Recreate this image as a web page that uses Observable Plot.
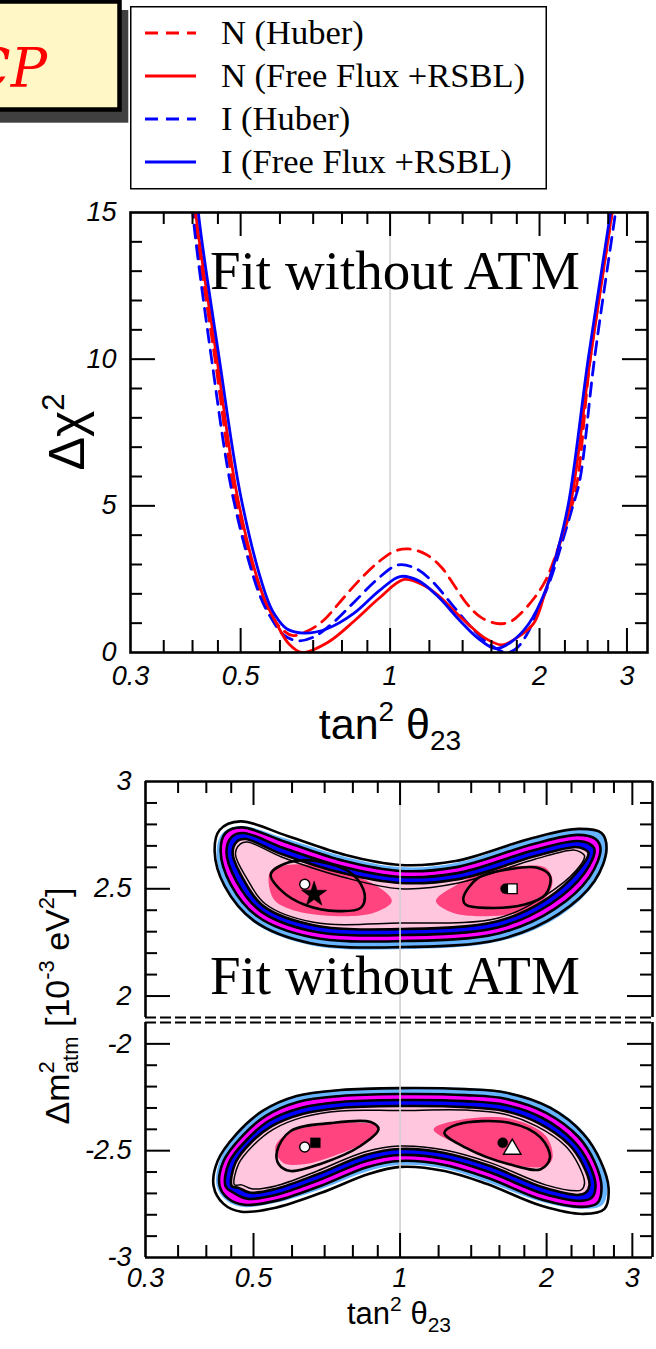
<!DOCTYPE html>
<html>
<head>
<meta charset="utf-8">
<script src="https://cdn.jsdelivr.net/npm/d3@7"></script>
<script src="https://cdn.jsdelivr.net/npm/@observablehq/plot@0.6"></script>
<style>
  html, body { margin: 0; padding: 0; background: #fff; }
  #page { position: relative; width: 656px; height: 1349px; overflow: hidden; background: #fff; }
</style>
</head>
<body>
<div id="page"></div>
<script>
const SANS = "Liberation Sans, Arial, Helvetica, sans-serif";
const SERIF = "Liberation Serif, Times New Roman, serif";

// ---- shared tan^2(theta23) axis ----
const tanDomain = [0.3, 3.3];
const tanMajorTicks = [0.5, 1, 2, 3];
const tanMinorTicks = [0.35, 0.4, 0.45, 0.6, 0.7, 0.8, 0.9, 1.2, 1.4, 1.6, 1.8, 2.25, 2.5, 2.75];
const tanTickLabels = [0.3, 0.5, 1, 2, 3];

// ---- Delta chi^2 profiles: [tan^2 theta23, Delta chi^2] ----
const chiDomain = [0, 15];
const chiMajorTicks = [5, 10];
const chiMinorTicks = [1, 2, 3, 4, 6, 7, 8, 9, 11, 12, 13, 14];
const chiTickLabels = [0, 5, 10, 15];

const chiNHuber = [
  [0.401, 16], [0.403, 15], [0.444, 10], [0.489, 5.2], [0.548, 2.0], [0.580, 1.2],
  [0.605, 0.80], [0.635, 0.58], [0.680, 0.72], [0.735, 1.10], [0.787, 1.66],
  [0.860, 2.40], [0.950, 3.10], [1.020, 3.45], [1.090, 3.53], [1.180, 3.35],
  [1.270, 2.90], [1.345, 2.30], [1.430, 1.65], [1.530, 1.18], [1.660, 0.98],
  [1.760, 1.08], [1.831, 1.32], [1.950, 1.85], [2.056, 2.45], [2.184, 3.59],
  [2.300, 4.73], [2.385, 5.86], [2.530, 10], [2.800, 15], [2.850, 16]
];
const chiNFree = [
  [0.403, 16], [0.406, 15], [0.448, 10], [0.494, 5.2], [0.553, 2.0], [0.590, 1.0],
  [0.625, 0.30], [0.665, 0.0], [0.750, 0.35], [0.850, 1.10], [0.950, 1.85],
  [1.067, 2.49], [1.160, 2.32], [1.250, 1.95], [1.340, 1.45], [1.440, 0.95],
  [1.550, 0.50], [1.680, 0.26], [1.800, 0.50], [1.948, 1.00], [2.056, 2.10],
  [2.184, 3.59], [2.316, 5.18], [2.530, 10], [2.800, 15], [2.850, 16]
];
const chiIHuber = [
  [0.398, 16], [0.4005, 15], [0.437, 10], [0.484, 5.2], [0.545, 2.0], [0.575, 1.2],
  [0.610, 0.60], [0.650, 0.40], [0.700, 0.52], [0.760, 0.95], [0.850, 1.75],
  [0.950, 2.55], [1.040, 2.99], [1.130, 2.85], [1.220, 2.40], [1.330, 1.65],
  [1.450, 0.90], [1.580, 0.30], [1.720, 0.0], [1.800, 0.15], [1.889, 0.64],
  [1.970, 1.32], [2.100, 2.45], [2.225, 3.80], [2.330, 4.95], [2.410, 5.86],
  [2.580, 10], [2.845, 15], [2.900, 16]
];
const chiIFree = [
  [0.408, 16], [0.411, 15], [0.453, 10], [0.502, 5.2], [0.561, 2.0], [0.585, 1.30],
  [0.620, 0.80], [0.672, 0.66], [0.747, 0.81], [0.845, 1.33], [0.950, 2.10],
  [1.047, 2.59], [1.140, 2.45], [1.250, 1.90], [1.380, 1.10], [1.500, 0.50],
  [1.630, 0.13], [1.750, 0.35], [1.903, 0.98], [2.056, 2.11], [2.184, 3.59],
  [2.293, 5.18], [2.506, 10], [2.780, 15], [2.830, 16]
];

// ---- Delta m^2_atm allowed regions, normal ordering: [tan^2 theta23, Delta m^2] ----
const dmUpperDomain = [1.9, 3];
const dmUpperMajorTicks = [2, 2.5];
const dmUpperMinorTicks = [2.1, 2.2, 2.3, 2.4, 2.6, 2.7, 2.8, 2.9];
const dmUpperTickLabels = [2, 2.5, 3];

const upperRegion99 = [
  [0.420, 2.676], [0.432, 2.760], [0.470, 2.793], [0.587, 2.732], [0.773, 2.648], [1.0, 2.601],
  [1.300, 2.620], [1.872, 2.732], [2.326, 2.774], [2.606, 2.760], [2.668, 2.686], [2.521, 2.531],
  [2.126, 2.372], [1.608, 2.256], [1.0, 2.218], [0.655, 2.237], [0.502, 2.340], [0.436, 2.508]
];
const upperLine1 = [
  [0.416, 2.676], [0.426, 2.774], [0.470, 2.814], [0.587, 2.746], [0.773, 2.657], [1.0, 2.611],
  [1.300, 2.629], [1.872, 2.737], [2.326, 2.779], [2.593, 2.760], [2.655, 2.686], [2.509, 2.536],
  [2.116, 2.382], [1.608, 2.265], [1.0, 2.228], [0.655, 2.246], [0.502, 2.349], [0.436, 2.513]
];
const upperLine2 = [
  [0.428, 2.676], [0.438, 2.760], [0.4725, 2.786], [0.582, 2.718], [0.769, 2.629], [1.0, 2.583],
  [1.306, 2.601], [1.880, 2.709], [2.315, 2.751], [2.521, 2.732], [2.581, 2.686], [2.450, 2.555],
  [2.076, 2.405], [1.600, 2.293], [1.0, 2.256], [0.658, 2.274], [0.509, 2.372], [0.4485, 2.522]
];
const upperLine3 = [
  [0.440, 2.671], [0.451, 2.742], [0.477, 2.760], [0.576, 2.690], [0.766, 2.601], [1.0, 2.555],
  [1.312, 2.573], [1.889, 2.681], [2.304, 2.723], [2.450, 2.709], [2.509, 2.681], [2.393, 2.573],
  [2.037, 2.429], [1.594, 2.321], [1.0, 2.284], [0.661, 2.302], [0.517, 2.396], [0.461, 2.536]
];
const upperLine4 = [
  [0.453, 2.667], [0.4635, 2.723], [0.4815, 2.732], [0.571, 2.662], [0.762, 2.573], [1.0, 2.527],
  [1.318, 2.545], [1.898, 2.653], [2.293, 2.695], [2.382, 2.686], [2.439, 2.667], [2.337, 2.592],
  [1.999, 2.452], [1.586, 2.349], [1.0, 2.312], [0.664, 2.330], [0.524, 2.419], [0.475, 2.550]
];
const upperLine5 = [
  [0.459, 2.662], [0.470, 2.709], [0.486, 2.718], [0.571, 2.648], [0.762, 2.555], [1.0, 2.500],
  [1.318, 2.527], [1.898, 2.639], [2.272, 2.681], [2.348, 2.671], [2.393, 2.653], [2.304, 2.587],
  [1.980, 2.466], [1.586, 2.363], [1.0, 2.340], [0.664, 2.344], [0.529, 2.429], [0.484, 2.550]
];
const upperCoreLeft = [
  [0.5425, 2.583], [0.612, 2.614], [0.746, 2.583], [0.884, 2.521], [0.962, 2.443],
  [0.884, 2.388], [0.746, 2.372], [0.612, 2.396], [0.554, 2.443], [0.539, 2.505]
];
const upperCoreRight = [
  [1.185, 2.443], [1.313, 2.521], [1.505, 2.583], [1.768, 2.606], [1.991, 2.598],
  [2.057, 2.536], [1.991, 2.458], [1.802, 2.396], [1.505, 2.372], [1.283, 2.388]
];
const upperIslandLeft = [
  [0.5425, 2.567], [0.589, 2.622], [0.676, 2.629], [0.800, 2.567], [0.846, 2.474],
  [0.830, 2.411], [0.746, 2.396], [0.635, 2.427], [0.572, 2.489]
];
const upperIslandRight = [
  [1.349, 2.458], [1.447, 2.551], [1.674, 2.591], [1.914, 2.598], [2.032, 2.559],
  [1.991, 2.474], [1.803, 2.427], [1.505, 2.411], [1.363, 2.427]
];
const upperBestFits = [[0.637, 2.521], [0.666, 2.474], [1.647, 2.500], [1.700, 2.500]];

// ---- inverted ordering ----
const dmLowerDomain = [-3, -1.9];
const dmLowerMajorTicks = [-2, -2.5];
const dmLowerMinorTicks = [-2.1, -2.2, -2.3, -2.4, -2.6, -2.7, -2.8, -2.9];
const dmLowerTickLabels = [-2, -2.5, -3];

const lowerRegion99 = [
  [0.420, -2.665], [0.426, -2.548], [0.464, -2.417], [0.522, -2.310], [0.613, -2.240], [0.755, -2.212],
  [1.0, -2.202], [1.363, -2.207], [1.663, -2.226], [2.047, -2.296], [2.393, -2.417], [2.593, -2.548],
  [2.668, -2.669], [2.606, -2.753], [2.382, -2.772], [1.952, -2.739], [1.505, -2.646], [1.234, -2.585],
  [1.0, -2.567], [0.862, -2.595], [0.689, -2.679], [0.555, -2.744], [0.472, -2.763], [0.438, -2.730]
];
const lowerLine1 = [
  [0.414, -2.665], [0.422, -2.548], [0.461, -2.422], [0.522, -2.314], [0.613, -2.244], [0.755, -2.216],
  [1.0, -2.207], [1.363, -2.212], [1.663, -2.230], [2.037, -2.300], [2.382, -2.422], [2.581, -2.548],
  [2.681, -2.674], [2.630, -2.772], [2.382, -2.796], [1.952, -2.758], [1.505, -2.655], [1.234, -2.595],
  [1.0, -2.576], [0.862, -2.609], [0.689, -2.697], [0.555, -2.767], [0.472, -2.786], [0.434, -2.749]
];
const lowerLine2 = [
  [0.426, -2.665], [0.434, -2.548], [0.472, -2.436], [0.529, -2.338], [0.617, -2.272], [0.755, -2.244],
  [1.0, -2.235], [1.363, -2.240], [1.655, -2.258], [2.000, -2.324], [2.326, -2.436], [2.509, -2.553],
  [2.593, -2.669], [2.545, -2.744], [2.370, -2.763], [1.961, -2.730], [1.512, -2.627], [1.234, -2.567],
  [1.0, -2.548], [0.858, -2.576], [0.686, -2.665], [0.555, -2.735], [0.479, -2.753], [0.444, -2.725]
];
const lowerLine3 = [
  [0.438, -2.665], [0.446, -2.553], [0.484, -2.450], [0.537, -2.361], [0.625, -2.300], [0.755, -2.272],
  [1.0, -2.263], [1.363, -2.268], [1.647, -2.286], [1.961, -2.347], [2.272, -2.455], [2.439, -2.557],
  [2.521, -2.665], [2.473, -2.721], [2.348, -2.735], [1.971, -2.702], [1.519, -2.599], [1.234, -2.539],
  [1.0, -2.520], [0.853, -2.548], [0.682, -2.637], [0.555, -2.707], [0.486, -2.725], [0.455, -2.697]
];
const lowerLine4 = [
  [0.451, -2.665], [0.459, -2.557], [0.493, -2.464], [0.545, -2.385], [0.630, -2.328], [0.755, -2.300],
  [1.0, -2.291], [1.363, -2.296], [1.639, -2.314], [1.925, -2.371], [2.219, -2.469], [2.370, -2.562],
  [2.450, -2.660], [2.404, -2.697], [2.326, -2.707], [1.980, -2.674], [1.527, -2.571], [1.234, -2.511],
  [1.0, -2.492], [0.849, -2.520], [0.679, -2.609], [0.555, -2.679], [0.493, -2.697], [0.466, -2.674]
];
const lowerLine5 = [
  [0.457, -2.660], [0.466, -2.562], [0.498, -2.478], [0.550, -2.399], [0.632, -2.343], [0.755, -2.314],
  [1.0, -2.312], [1.363, -2.310], [1.632, -2.328], [1.907, -2.385], [2.187, -2.478], [2.326, -2.567],
  [2.393, -2.651], [2.359, -2.683], [2.304, -2.688], [1.990, -2.660], [1.534, -2.557], [1.234, -2.497],
  [1.0, -2.478], [0.845, -2.506], [0.676, -2.595], [0.555, -2.665], [0.498, -2.679], [0.472, -2.660]
];
const lowerCoreLeft = [
  [0.554, -2.486], [0.589, -2.416], [0.690, -2.380], [0.827, -2.369], [0.903, -2.385],
  [0.877, -2.439], [0.746, -2.517], [0.634, -2.564], [0.575, -2.556]
];
const lowerCoreRight = [
  [1.172, -2.400], [1.293, -2.361], [1.675, -2.349], [1.991, -2.430], [2.057, -2.533],
  [1.991, -2.572], [1.675, -2.564], [1.363, -2.486]
];
const lowerIslandLeft = [
  [0.559, -2.501], [0.596, -2.408], [0.720, -2.371], [0.870, -2.366], [0.903, -2.399],
  [0.829, -2.478], [0.686, -2.562], [0.596, -2.595], [0.563, -2.562]
];
const lowerIslandRight = [
  [1.233, -2.416], [1.311, -2.377], [1.675, -2.369], [1.945, -2.439], [2.032, -2.533],
  [1.945, -2.587], [1.675, -2.564], [1.363, -2.486]
];
const lowerBestFits = [[0.637, -2.483], [0.670, -2.463], [1.625, -2.463], [1.700, -2.493]];

// ---- colours ----
const RED = "#ff0000", BLUE = "#0000ff";
const C_LIGHTBLUE = "#66b3ff", C_MAGENTA = "#ff00ff", C_BLUE = "#0000ff",
      C_LIGHTPINK = "#ffc6de", C_HOTPINK = "#ff4480";

const page = document.getElementById("page");
function place(el, top) {
  el.style.position = "absolute";
  el.style.left = "0px";
  el.style.top = top + "px";
  el.style.background = "none";
  el.style.overflow = "visible";
  page.appendChild(el);
}

const TICK = {stroke: "#000", strokeWidth: 2};
function tanTickMarks(H, edges) {
  const out = [];
  for (const e of edges) {
    const inset = e === "bottom" ? "insetTop" : "insetBottom";
    out.push(Plot.tickX(tanMajorTicks, {x: d => d, [inset]: H - 24, ...TICK}));
    out.push(Plot.tickX(tanMinorTicks, {x: d => d, [inset]: H - 12, ...TICK}));
  }
  return out;
}
function sideTickMarks(W, major, minor) {
  return [
    Plot.tickY(major, {y: d => d, insetRight: W - 25, ...TICK}),
    Plot.tickY(minor, {y: d => d, insetRight: W - 12, ...TICK}),
    Plot.tickY(major, {y: d => d, insetLeft: W - 25, ...TICK}),
    Plot.tickY(minor, {y: d => d, insetLeft: W - 12, ...TICK})
  ];
}
const tickFont = {fontSize: 27, fontStyle: "italic", fontFamily: SANS, fill: "#000", lineAnchor: "middle"};
function tanLabels(dy) {
  return Plot.text(tanTickLabels, {x: d => d, frameAnchor: "bottom", dy, text: d => String(d), ...tickFont});
}
function sideLabels(values, dx) {
  return Plot.text(values, {y: d => d, frameAnchor: "left", dx, textAnchor: "end", text: d => String(d), ...tickFont});
}

// ---------- Delta chi^2 panel ----------
const profile = (data, stroke, dashed) => Plot.line(data, {
  x: d => d[0], y: d => d[1], stroke, strokeWidth: 2.8,
  strokeDasharray: dashed ? "13,8" : null, curve: "catmull-rom", clip: true
});
const chiPlot = Plot.plot({
  width: 656, height: 560,
  marginTop: 32, marginBottom: 88, marginLeft: 130, marginRight: 9,
  x: {type: "log", domain: tanDomain, axis: null},
  y: {domain: chiDomain, axis: null},
  marks: [
    Plot.ruleX([1], {stroke: "#d4d4d4", strokeWidth: 1.6}),
    profile(chiNHuber, RED, true),
    profile(chiIHuber, BLUE, true),
    profile(chiNFree, RED, false),
    profile(chiIFree, BLUE, false),
    Plot.frame({stroke: "#000", strokeWidth: 2.6}),
    ...tanTickMarks(440, ["bottom", "top"]),
    ...sideTickMarks(517, chiMajorTicks, chiMinorTicks),
    tanLabels(24),
    sideLabels(chiTickLabels, -14)
  ]
});
place(chiPlot, 180);

// ---------- Delta m^2 vs tan^2 panels (broken axis) ----------
const region = (data, fill) => Plot.line(data, {x: d => d[0], y: d => d[1], fill, stroke: "none", curve: "catmull-rom-closed"});
const contour = (data, w) => Plot.line(data, {x: d => d[0], y: d => d[1], fill: "none", stroke: "#000", strokeWidth: w, curve: "catmull-rom-closed"});
const BREAK = {stroke: "#000", strokeWidth: 2, strokeDasharray: "11,4"};
const EDGE = {stroke: "#000", strokeWidth: 2.6};

function dmPanel(o) {
  return Plot.plot({
    width: 656, height: o.height,
    marginTop: o.marginTop, marginBottom: o.marginBottom, marginLeft: 145, marginRight: 4,
    x: {type: "log", domain: tanDomain, axis: null},
    y: {domain: o.domain, axis: null},
    marks: [
      region(o.outer, C_LIGHTBLUE),
      region(o.lines[1], C_MAGENTA),
      region(o.lines[2], C_BLUE),
      region(o.lines[3], C_LIGHTPINK),
      region(o.cores[0], C_HOTPINK),
      region(o.cores[1], C_HOTPINK),
      contour(o.lines[0], 2.6),
      contour(o.lines[1], 2.6),
      contour(o.lines[2], 2.6),
      contour(o.lines[3], 2.6),
      contour(o.lines[4], 1.5),
      contour(o.islands[0], 2.6),
      contour(o.islands[1], 2.6),
      Plot.ruleX([1], {stroke: "#d0d0d0", strokeWidth: 1.6}),
      ...o.markers,
      Plot.ruleX([tanDomain[0], tanDomain[1]], EDGE),
      Plot.ruleY([o.solidEdge], EDGE),
      Plot.ruleY([o.breakEdge], BREAK),
      ...tanTickMarks(o.H, [o.tickEdge]),
      ...sideTickMarks(507, o.major, o.minor),
      sideLabels(o.labels, -14),
      ...(o.tickEdge === "bottom" ? [tanLabels(21)] : [])
    ]
  });
}

const dot = (p, symbol, fill, r) => Plot.dot([p], {x: d => d[0], y: d => d[1], symbol, fill, r, stroke: "#000", strokeWidth: fill === "white" ? 1.4 : 0.5});

const upperPanel = dmPanel({
  height: 260, marginTop: 21, marginBottom: 3, H: 236, domain: dmUpperDomain,
  outer: upperRegion99,
  lines: [upperLine1, upperLine2, upperLine3, upperLine4, upperLine5],
  cores: [upperCoreLeft, upperCoreRight],
  islands: [upperIslandLeft, upperIslandRight],
  markers: [
    dot(upperBestFits[0], "circle", "white", 5),
    dot(upperBestFits[1], "star", "black", 8),
    dot(upperBestFits[2], "circle", "black", 5),
    dot(upperBestFits[3], "square", "white", 5.5)
  ],
  solidEdge: dmUpperDomain[1], breakEdge: dmUpperDomain[0], tickEdge: "top",
  major: dmUpperMajorTicks, minor: dmUpperMinorTicks, labels: dmUpperTickLabels
});
place(upperPanel, 760);

const lowerPanel = dmPanel({
  height: 329, marginTop: 2, marginBottom: 92, H: 235, domain: dmLowerDomain,
  outer: lowerRegion99,
  lines: [lowerLine1, lowerLine2, lowerLine3, lowerLine4, lowerLine5],
  cores: [lowerCoreLeft, lowerCoreRight],
  islands: [lowerIslandLeft, lowerIslandRight],
  markers: [
    dot(lowerBestFits[0], "circle", "white", 5),
    dot(lowerBestFits[1], "square", "black", 5.5),
    dot(lowerBestFits[2], "circle", "black", 5),
    dot(lowerBestFits[3], "triangle", "white", 6.5)
  ],
  solidEdge: dmLowerDomain[0], breakEdge: dmLowerDomain[1], tickEdge: "bottom",
  major: dmLowerMajorTicks, minor: dmLowerMinorTicks, labels: dmLowerTickLabels
});
place(lowerPanel, 1020);

// ---------- titles, legend and axis labels ----------
const legendEntries = [
  {label: "N (Huber)", color: RED, dashed: true},
  {label: "N (Free Flux +RSBL)", color: RED, dashed: false},
  {label: "I (Huber)", color: BLUE, dashed: true},
  {label: "I (Free Flux +RSBL)", color: BLUE, dashed: false}
];

const ov = d3.create("svg")
  .attr("width", 656).attr("height", 1349)
  .style("position", "absolute").style("left", "0px").style("top", "0px");

// boxed panel tag with drop shadow
ov.append("rect").attr("x", -3).attr("y", 10).attr("width", 131.3).attr("height", 112.7).attr("fill", "#404040");
ov.append("rect").attr("x", -10).attr("y", 1.5).attr("width", 129.5).attr("height", 108)
  .attr("fill", "#fff8c6").attr("stroke", "#000").attr("stroke-width", 4.5);
ov.append("text").attr("x", 47).attr("y", 87).attr("text-anchor", "end")
  .attr("font-family", "DejaVu Serif, serif").attr("font-style", "italic").attr("font-size", 54).attr("fill", RED)
  .text("CP");

// legend
ov.append("rect").attr("x", 130.75).attr("y", 6.75).attr("width", 415.5).attr("height", 182)
  .attr("fill", "#fff").attr("stroke", "#000").attr("stroke-width", 1.5);
legendEntries.forEach((e, i) => {
  const y = 33 + i * 43;
  ov.append("line").attr("x1", 145).attr("x2", 196).attr("y1", y).attr("y2", y)
    .attr("stroke", e.color).attr("stroke-width", 2.8)
    .attr("stroke-dasharray", e.dashed ? "13,8" : null);
  ov.append("text").attr("x", 221).attr("y", y + 11)
    .attr("font-family", SERIF).attr("font-size", 34.5).attr("fill", "#000").text(e.label);
});

// in-panel captions
for (const y of [289, 994]) {
  ov.append("text").attr("x", 210).attr("y", y)
    .attr("font-family", SERIF).attr("font-size", 55).attr("fill", "#000").text("Fit without ATM");
}

// axis titles
ov.append("g").html(`
  <text transform="translate(84,432) rotate(-90)" text-anchor="middle" font-family="${SANS}" font-size="50">\u0394\u03c7<tspan dy="-20" font-size="31">2</tspan></text>
  <text x="390" y="739" text-anchor="middle" font-family="${SANS}" font-size="43">tan<tspan dy="-18" font-size="28">2</tspan><tspan dy="18"> \u03b8</tspan><tspan dy="11" font-size="28">23</tspan></text>
  <text x="399" y="1324" text-anchor="middle" font-family="${SANS}" font-size="31">tan<tspan dy="-13" font-size="21">2</tspan><tspan dy="13"> \u03b8</tspan><tspan dy="8" font-size="21">23</tspan></text>
  <text transform="translate(69,1006) rotate(-90)" text-anchor="middle" font-family="${SANS}" font-size="34">\u0394m<tspan dy="-15" font-size="22">2</tspan><tspan dx="-12" dy="24" font-size="22">atm</tspan><tspan dy="-9"> [10</tspan><tspan dy="-15" font-size="22">-3</tspan><tspan dy="15"> eV</tspan><tspan dy="-15" font-size="22">2</tspan><tspan dy="15">]</tspan></text>
`);

page.appendChild(ov.node());
</script>
</body>
</html>
